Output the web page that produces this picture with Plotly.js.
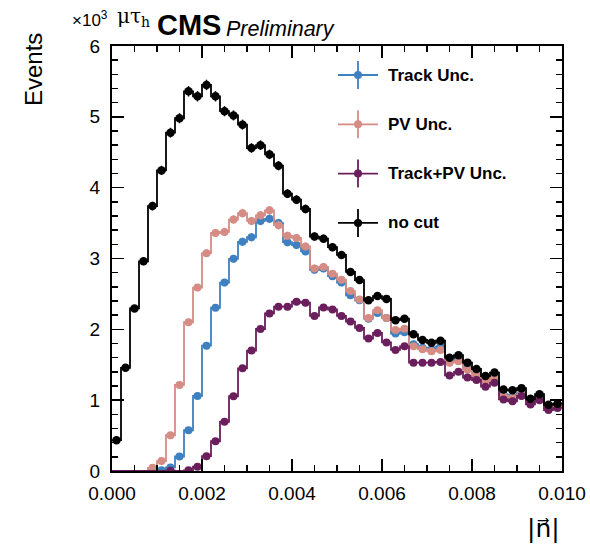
<!DOCTYPE html>
<html>
<head>
<meta charset="utf-8">
<script src="https://cdn.plot.ly/plotly-3.0.1.min.js"></script>
<style>html,body{margin:0;padding:0;background:#fff;}#chart{width:590px;height:547px;}</style>
</head>
<body>
<div id="chart"></div>
<script>
// Histogram binning of |n| (50 bins from 0 to 0.010)
const binWidth = 0.0002;

// Events (x10^3) per bin
const trackUnc = [0,0,0,0,0,0.01,0.05,0.205,0.575,1.06,
  1.77,2.305,2.66,2.995,3.235,3.30,3.53,3.56,3.50,3.23,
  3.19,3.10,2.84,2.86,2.75,2.66,2.48,2.41,2.15,2.23,
  2.16,1.94,1.96,1.79,1.74,1.72,1.76,1.55,1.585,1.46,
  1.385,1.29,1.34,1.08,1.05,1.10,0.98,1.04,0.90,0.93];
const pvUnc = [0,0,0,0,0.045,0.14,0.505,1.215,2.10,2.59,
  3.075,3.36,3.375,3.55,3.64,3.53,3.61,3.68,3.47,3.32,
  3.29,3.17,2.86,2.88,2.785,2.70,2.54,2.42,2.16,2.27,
  2.16,1.99,2.01,1.76,1.72,1.69,1.71,1.53,1.55,1.43,
  1.355,1.27,1.32,1.06,1.03,1.08,0.97,1.02,0.89,0.915];
const trackPvUnc = [0,0,0,0,0,0,0.005,0,0.01,0.06,
  0.21,0.42,0.695,1.055,1.45,1.70,2.005,2.225,2.32,2.32,
  2.39,2.375,2.19,2.31,2.28,2.19,2.11,2.02,1.87,1.95,
  1.815,1.71,1.76,1.53,1.53,1.53,1.54,1.35,1.40,1.32,
  1.285,1.19,1.245,1.01,0.985,1.06,0.94,1.0,0.86,0.89];
const noCut = [0.435,1.457,2.295,2.96,3.74,4.244,4.776,4.98,5.36,5.29,
  5.45,5.29,5.08,5.02,4.89,4.56,4.60,4.47,4.31,3.915,
  3.83,3.70,3.31,3.28,3.16,3.05,2.81,2.695,2.41,2.47,
  2.43,2.13,2.15,1.93,1.85,1.81,1.84,1.60,1.635,1.53,
  1.44,1.34,1.39,1.15,1.14,1.17,1.02,1.085,0.935,0.95];

const seriesNames = ['Track Unc.', 'PV Unc.', 'Track+PV Unc.', 'no cut'];
const seriesValues = [trackUnc, pvUnc, trackPvUnc, noCut];
const seriesColors = ['#3f80c0', '#d48c84', '#6a1e5c', '#000000'];
const xTickVals = [0, 0.002, 0.004, 0.006, 0.008, 0.010];
const yTickVals = [0, 1, 2, 3, 4, 5, 6];
const xRange = [0, 0.010];
const yRange = [0, 6];

const traces = [];
seriesValues.forEach((vals, s) => {
  const edges = vals.map((_, i) => i * binWidth).concat([vals.length * binWidth]);
  const stepY = vals.concat([vals[vals.length - 1]]);
  const centers = vals.map((_, i) => (i + 0.5) * binWidth);
  const markY = vals.map(v => v > 0 ? v : null);
  const errs = vals.map(v => Math.sqrt(v * 1000) / 1000);
  traces.push({
    type: 'scatter', mode: 'lines', x: edges, y: stepY,
    line: {shape: 'hv', color: seriesColors[s], width: 1.8},
    hoverinfo: 'skip', showlegend: false
  });
  traces.push({
    type: 'scatter', mode: 'markers', x: centers, y: markY, name: seriesNames[s],
    marker: {color: seriesColors[s], size: s === 3 ? 8.5 : 8},
    error_y: {type: 'data', array: errs, visible: true, color: seriesColors[s], thickness: 1.5, width: 0},
    showlegend: false
  });
});
// empty trace so the top/right tick axes are drawn
traces.push({type: 'scatter', mode: 'lines', x: [], y: [], xaxis: 'x2', yaxis: 'y2', showlegend: false, hoverinfo: 'skip'});

// plot area: x 112..562, y 46..471 (pixels)
const L = 112, T = 46, W = 450, H = 425;
const px = x => (x - L) / W;
const py = y => (T + H - y) / H;

const shapes = [];
const annotations = [];
seriesNames.forEach((name, i) => {
  const yc = 75 + 49.3 * i;
  const c = seriesColors[i];
  shapes.push({type: 'line', xref: 'paper', yref: 'paper', x0: px(338), x1: px(378), y0: py(yc), y1: py(yc), line: {color: c, width: 1.8}});
  shapes.push({type: 'line', xref: 'paper', yref: 'paper', x0: px(358), x1: px(358), y0: py(yc - 14), y1: py(yc + 14), line: {color: c, width: 1.8}});
  shapes.push({type: 'circle', xref: 'paper', yref: 'paper', x0: px(354), x1: px(362), y0: py(yc + 4), y1: py(yc - 4), fillcolor: c, line: {color: c, width: 0}});
  annotations.push({xref: 'paper', yref: 'paper', x: px(386), y: py(yc), xanchor: 'left', yanchor: 'middle', showarrow: false,
    text: '<b>' + name + '</b>', font: {family: 'Liberation Sans, Arial, sans-serif', size: 17, color: '#000'}});
});

annotations.push({xref: 'paper', yref: 'paper', x: px(70), y: py(19), xanchor: 'left', yanchor: 'middle', showarrow: false,
  text: '×10<sup>3</sup>', font: {family: 'Liberation Sans, Arial, sans-serif', size: 17, color: '#000'}});
annotations.push({xref: 'paper', yref: 'paper', x: px(115), y: py(17), xanchor: 'left', yanchor: 'middle', showarrow: false,
  text: 'μτ<sub>h</sub>', font: {family: 'DejaVu Serif, Liberation Serif, serif', size: 20, color: '#000'}});
annotations.push({xref: 'paper', yref: 'paper', x: px(155), y: py(25), xanchor: 'left', yanchor: 'middle', showarrow: false,
  text: '<b>CMS</b>', font: {family: 'Liberation Sans, Arial, sans-serif', size: 29, color: '#000'}});
annotations.push({xref: 'paper', yref: 'paper', x: px(224), y: py(29), xanchor: 'left', yanchor: 'middle', showarrow: false,
  text: '<i>Preliminary</i>', font: {family: 'Liberation Sans, Arial, sans-serif', size: 21.5, color: '#000'}});
annotations.push({xref: 'paper', yref: 'paper', x: px(33), y: py(70), xanchor: 'center', yanchor: 'middle', showarrow: false, textangle: -90,
  text: 'Events', font: {family: 'Liberation Sans, Arial, sans-serif', size: 24, color: '#000'}});
annotations.push({xref: 'paper', yref: 'paper', x: px(562), y: py(528), xanchor: 'right', yanchor: 'middle', showarrow: false,
  text: '|n\u20D7|', font: {family: 'DejaVu Sans, sans-serif', size: 25, color: '#000'}});

const axisCommon = {
  showgrid: false, zeroline: false, showline: true, linecolor: '#000', linewidth: 2,
  ticks: 'inside', ticklen: 12, tickwidth: 1.5, tickcolor: '#000', mirror: true,
  tickfont: {family: 'Liberation Sans, Arial, sans-serif', size: 19, color: '#000'}
};
const xMinor = {dtick: 0.0005, tick0: 0, ticklen: 6, tickwidth: 1.5, tickcolor: '#000', ticks: 'inside'};
const yMinor = {dtick: 0.2, tick0: 0, ticklen: 6, tickwidth: 1.5, tickcolor: '#000', ticks: 'inside'};

const layout = {
  width: 590, height: 547,
  margin: {l: L, r: 590 - L - W, t: T, b: 547 - T - H},
  paper_bgcolor: '#fff', plot_bgcolor: '#fff',
  showlegend: false,
  xaxis: Object.assign({}, axisCommon, {range: xRange, tickvals: xTickVals, tickformat: '.3f', ticklabelstandoff: 4, minor: xMinor}),
  yaxis: Object.assign({}, axisCommon, {range: yRange, tickvals: yTickVals, ticklabelstandoff: 6, minor: yMinor}),
  xaxis2: Object.assign({}, axisCommon, {range: xRange, tickvals: xTickVals, overlaying: 'x', side: 'top', anchor: 'y2', showticklabels: false, minor: xMinor}),
  yaxis2: Object.assign({}, axisCommon, {range: yRange, tickvals: yTickVals, overlaying: 'y', side: 'right', anchor: 'x2', showticklabels: false, minor: yMinor}),
  shapes: shapes,
  annotations: annotations
};

Plotly.newPlot('chart', traces, layout, {staticPlot: true, displayModeBar: false});
</script>
</body>
</html>
